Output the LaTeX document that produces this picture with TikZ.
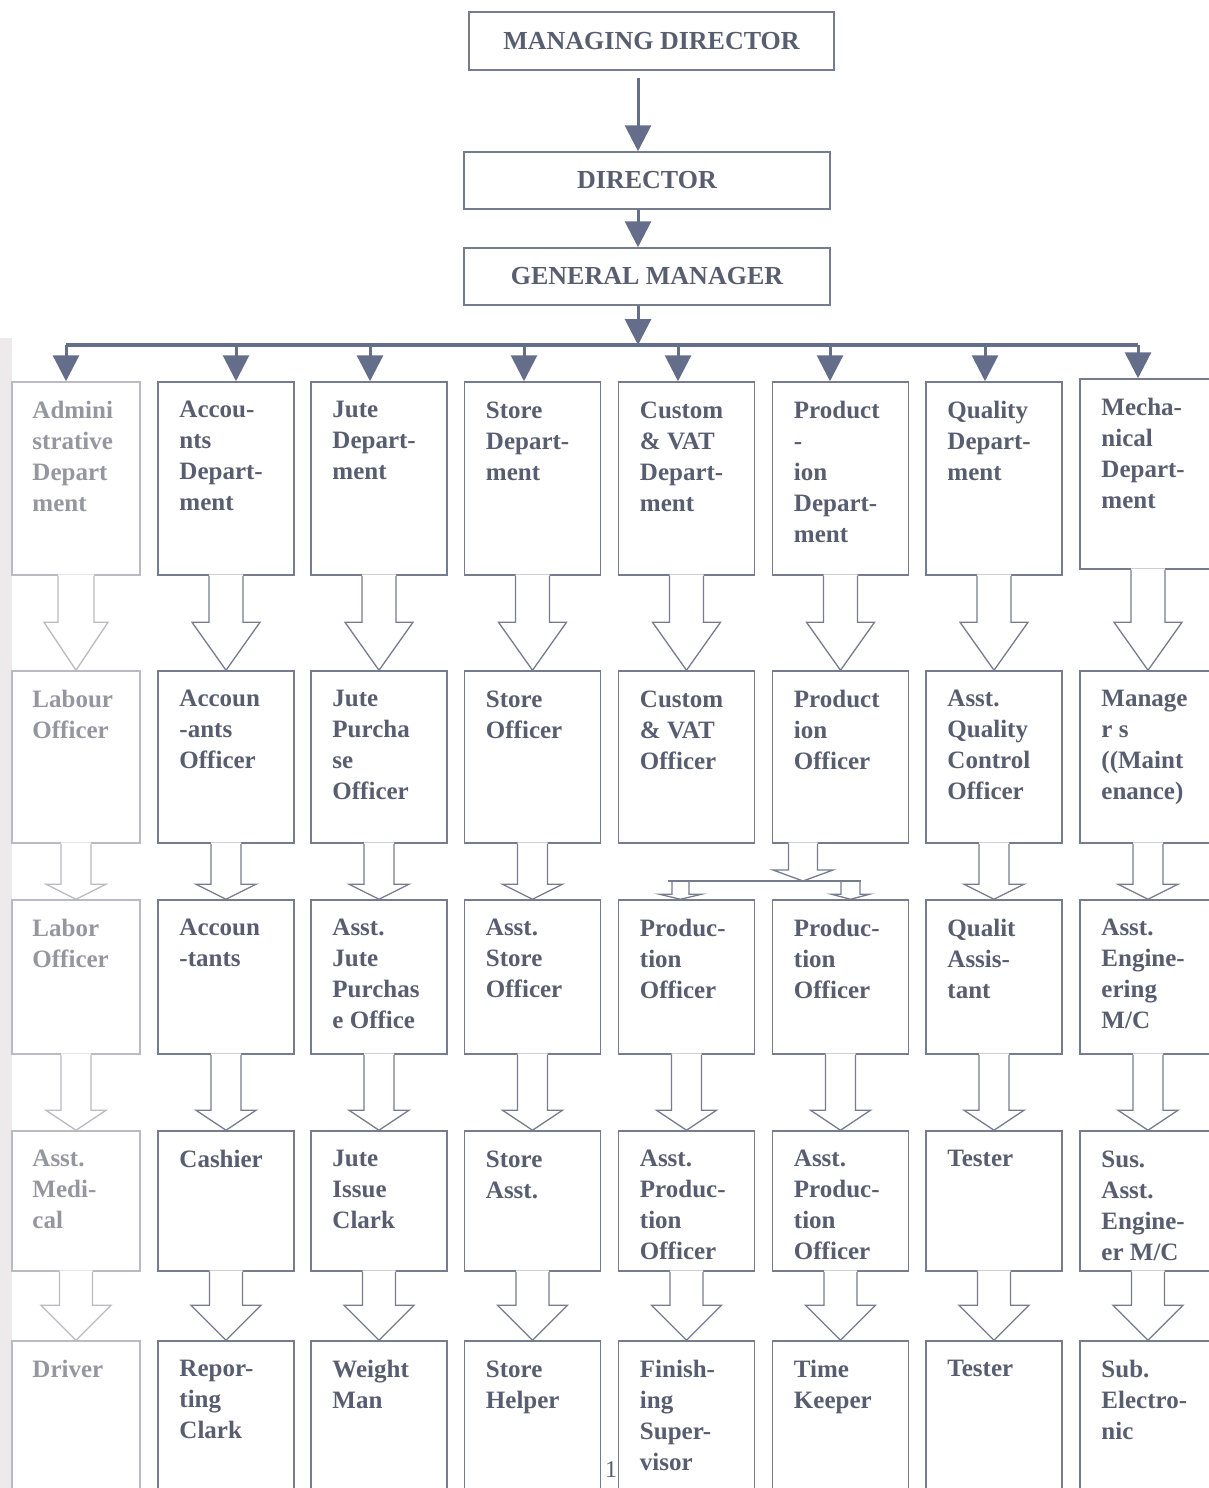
\documentclass[tikz,border=0pt]{standalone}
\usepackage{fontspec}
\setmainfont{Liberation Serif}
\usetikzlibrary{arrows.meta,calc}
\definecolor{txt}{RGB}{88,94,112}
\definecolor{ln}{RGB}{118,124,142}
\definecolor{fadetxt}{RGB}{150,150,160}
\definecolor{fadeln}{RGB}{185,186,194}
\definecolor{arr}{RGB}{100,110,138}
\definecolor{strip}{RGB}{238,233,235}

\newcommand\cell[5]{%
  \node[boxn,minimum height=#4pt] (#1) at (#2,#3) {};
  \node[lbl] (#1t) at ([xshift=22pt,yshift=-20pt]#1.north west) {#5};}
\newcommand\fcell[5]{%
  \node[boxn,fadebox,minimum height=#4pt] (#1) at (#2,#3) {};
  \node[lbl,fadelbl] (#1t) at ([xshift=21pt,yshift=-20pt]#1.north west) {#5};}
\newcommand\blkarrow[6][blk]{%
  \fill[white] let \p1=#2, \p2=#3 in (\x1-#4,\y1+1.3pt) -- (\x1-#4,\y2+#6) -- (\x1-#5,\y2+#6) -- (\x1,\y2) -- (\x1+#5,\y2+#6) -- (\x1+#4,\y2+#6) -- (\x1+#4,\y1+1.3pt) -- cycle;
  \draw[#1] let \p1=#2, \p2=#3 in (\x1-#4,\y1) -- (\x1-#4,\y2+#6) -- (\x1-#5,\y2+#6) -- (\x1,\y2) -- (\x1+#5,\y2+#6) -- (\x1+#4,\y2+#6) -- (\x1+#4,\y1);}

\begin{document}
\begin{tikzpicture}[x=1pt,y=-1pt,
  boxn/.style={draw=ln, line width=1.5pt, minimum width=136pt, inner sep=0pt},
  fadebox/.style={draw=fadeln, minimum width=128pt},
  topbox/.style={draw=ln, line width=1.5pt, inner sep=0pt, minimum width=366pt, minimum height=57pt, font=\fontsize{26}{30}\selectfont\bfseries, text=txt},
  lbl/.style={anchor=north west, inner sep=0pt, align=left, text=txt, font=\fontsize{25}{31}\selectfont\bfseries},
  fadelbl/.style={text=fadetxt},
  blk/.style={draw=ln, line width=1.3pt},
  fadeblk/.style={draw=fadeln, line width=1.3pt},
  toparr/.style={arr, line width=3pt, -{Triangle[width=26pt,length=26pt]}},
  bus/.style={draw=arr, line width=4pt, rounded corners=4pt},
]
\useasboundingbox (0,0) rectangle (1208,1488);
\fill[strip] (0,338) rectangle (12,1488);

% top hierarchy
\node[topbox, minimum width=365pt, minimum height=58pt] (md) at (651.5,41) {MANAGING DIRECTOR};
\node[topbox] (dir) at (647,180.5) {DIRECTOR};
\node[topbox] (gm) at (647,276.5) {GENERAL MANAGER};
\coordinate (ax) at (638,0);
\coordinate (busc) at (638,345);
\draw[toparr, shorten <=7pt] (md.south -| ax) -- (dir.north -| ax);
\draw[toparr] (dir.south -| ax) -- (gm.north -| ax);
\draw[toparr] (gm.south -| ax) -- (busc);

% row 1: departments
\fcell{a1}{76}{478.5}{193}{Admini\\strative\\Depart\\ment}
\cell{a2}{226}{478.5}{193}{Accou-\\nts\\Depart-\\ment}
\cell{a3}{379}{478.5}{193}{Jute\\Depart-\\ment}
\cell{a4}{532.5}{478.5}{193}{Store\\Depart-\\ment}
\cell{a5}{686.5}{478.5}{193}{Custom\\\& VAT\\Depart-\\ment}
\cell{a6}{840.5}{478.5}{193}{Product\\-\\ion\\Depart-\\ment}
\cell{a7}{994}{478.5}{193}{Quality\\Depart-\\ment}
\cell{a8}{1148}{474}{190}{Mecha-\\nical\\Depart-\\ment}

% row 2
\fcell{b1}{76}{757}{172}{Labour\\Officer}
\cell{b2}{226}{757}{172}{Accoun\\-ants\\Officer}
\cell{b3}{379}{757}{172}{Jute\\Purcha\\se\\Officer}
\cell{b4}{532.5}{757}{172}{Store\\Officer}
\cell{b5}{686.5}{757}{172}{Custom\\\& VAT\\Officer}
\cell{b6}{840.5}{757}{172}{Product\\ion\\Officer}
\cell{b7}{994}{757}{172}{Asst.\\Quality\\Control\\Officer}
\cell{b8}{1148}{757}{172}{Manage\\r s\\((Maint\\enance)}

% row 3
\fcell{c1}{76}{977}{154}{Labor\\Officer}
\cell{c2}{226}{977}{154}{Accoun\\-tants}
\cell{c3}{379}{977}{154}{Asst.\\Jute\\Purchas\\e Office}
\cell{c4}{532.5}{977}{154}{Asst.\\Store\\Officer}
\cell{c5}{686.5}{977}{154}{Produc-\\tion\\Officer}
\cell{c6}{840.5}{977}{154}{Produc-\\tion\\Officer}
\cell{c7}{994}{977}{154}{Qualit\\Assis-\\tant}
\cell{c8}{1148}{977}{154}{Asst.\\Engine-\\ering\\M/C}

% row 4
\fcell{d1}{76}{1201}{140}{Asst.\\Medi-\\cal}
\cell{d2}{226}{1201}{140}{Cashier}
\cell{d3}{379}{1201}{140}{Jute\\Issue\\Clark}
\cell{d4}{532.5}{1201}{140}{Store\\Asst.}
\cell{d5}{686.5}{1201}{140}{Asst.\\Produc-\\tion\\Officer}
\cell{d6}{840.5}{1201}{140}{Asst.\\Produc-\\tion\\Officer}
\cell{d7}{994}{1201}{140}{Tester}
\cell{d8}{1148}{1201}{140}{Sus.\\Asst.\\Engine-\\er M/C}

% row 5
\fcell{e1}{76}{1421}{160}{Driver}
\cell{e2}{226}{1421}{160}{Repor-\\ting\\Clark}
\cell{e3}{379}{1421}{160}{Weight\\Man}
\cell{e4}{532.5}{1421}{160}{Store\\Helper}
\cell{e5}{686.5}{1421}{160}{Finish-\\ing\\Super-\\visor}
\cell{e6}{840.5}{1421}{160}{Time\\Keeper}
\cell{e7}{994}{1421}{160}{Tester}
\cell{e8}{1148}{1421}{160}{Sub.\\Electro-\\nic}

% bus and arrows to departments
\coordinate (t1) at (66,345);
\coordinate (t2) at (236,345);
\coordinate (t3) at (370,345);
\coordinate (t4) at (524,345);
\coordinate (t5) at (678,345);
\coordinate (t6) at (830,345);
\coordinate (t7) at (985,345);
\coordinate (t8) at (1138,345);
\draw[bus] (t1) -- (t8);
\foreach \i in {1,...,8} {\draw[toparr] (t\i) -- (t\i |- a\i.north);}

% block arrows row1 -> row2
\blkarrow[fadeblk]{(a1.south)}{(b1.north)}{18pt}{32pt}{48pt}
\foreach \i in {2,...,8} {\blkarrow{(a\i.south)}{(b\i.north)}{17pt}{34pt}{48pt}}

% row2 -> row3
\blkarrow[fadeblk]{(b1.south)}{(c1.north)}{15pt}{30pt}{15pt}
\foreach \i in {2,3,4,7,8} {\blkarrow{(b\i.south)}{(c\i.north)}{15pt}{30pt}{15pt}}

% production branch
\coordinate (brc) at (803,881);
\coordinate (brl) at (680.5,881);
\coordinate (brr) at (850.5,881);
\coordinate (bl0) at (668,881);
\coordinate (br0) at (861,881);
\blkarrow{(b6.south -| brc)}{(brc)}{14.5pt}{30pt}{11pt}
\blkarrow{(brl)}{(brl |- c5.north)}{8.5pt}{21pt}{5pt}
\blkarrow{(brr)}{(brr |- c6.north)}{9.5pt}{19pt}{5pt}
\draw[blk] (bl0) -- (br0);

% row3 -> row4
\blkarrow[fadeblk]{(c1.south)}{(d1.north)}{15pt}{30pt}{20pt}
\foreach \i in {2,...,8} {\blkarrow{(c\i.south)}{(d\i.north)}{15pt}{30pt}{20pt}}

% row4 -> row5
\blkarrow[fadeblk]{(d1.south)}{(e1.north)}{16.5pt}{35pt}{35pt}
\foreach \i in {2,...,8} {\blkarrow{(d\i.south)}{(e\i.north)}{16.5pt}{35pt}{35pt}}

\node[font=\fontsize{24}{26}\selectfont, text=txt, inner sep=0pt] (pg) at (611,1470) {1};
\end{tikzpicture}
\end{document}
